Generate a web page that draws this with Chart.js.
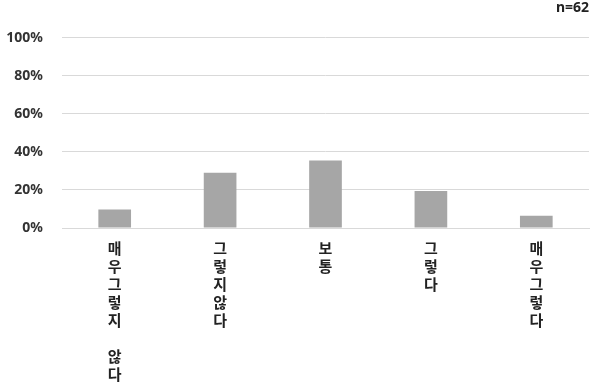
<!DOCTYPE html>
<html>
<head>
<meta charset="utf-8">
<script src="https://cdn.jsdelivr.net/npm/chart.js@4"></script>
<style>
  html, body { margin: 0; padding: 0; background: #fff; }
  #wrap { width: 593px; height: 384px; position: relative; }
</style>
</head>
<body>
<div id="wrap"><canvas id="chart"></canvas></div>
<script>
// chart data
const categories = ['매우그렇지 않다', '그렇지않다', '보통', '그렇다', '매우그렇다'];
const percents = [9.7, 29.0, 35.5, 19.4, 6.5];
const yTicks = [0, 20, 40, 60, 80, 100];
const sampleNote = 'n=62';

// stack each label vertically, one character per line (space -> empty line)
const verticalLabels = categories.map(c => c.split('').map(ch => ch === ' ' ? '' : ch));

new Chart(document.getElementById('chart'), {
  type: 'bar',
  data: {
    labels: verticalLabels,
    datasets: [{
      data: percents,
      backgroundColor: '#a6a6a6',
      borderWidth: 0,
      barPercentage: 0.31,
      categoryPercentage: 1.0
    }]
  },
  options: {
    responsive: true,
    maintainAspectRatio: false,
    animation: false,
    layout: { padding: { left: 0, right: 4, top: 0, bottom: 0 } },
    plugins: {
      legend: { display: false },
      tooltip: { enabled: false },
      title: {
        display: true,
        text: sampleNote,
        align: 'end',
        color: '#222',
        font: { family: 'Noto Sans', size: 14, weight: 'bold' },
        padding: { top: 0, bottom: 21 }
      }
    },
    scales: {
      x: {
        afterFit: s => { s.height = 156; },
        grid: { display: false, drawTicks: false },
        border: { display: true, color: '#d9d9d9', width: 1 },
        ticks: {
          autoSkip: false,
          maxRotation: 0,
          minRotation: 0,
          padding: 11,
          color: '#222',
          font: { family: 'Noto Sans CJK KR', size: 15, weight: 'bold', lineHeight: '18px' }
        }
      },
      y: {
        min: 0,
        max: 100,
        afterFit: s => { s.width = 62; },
        afterBuildTicks: axis => { axis.ticks = yTicks.map(v => ({ value: v })); },
        grid: { color: '#d9d9d9', drawTicks: false },
        border: { display: false },
        ticks: {
          padding: 19,
          color: '#333',
          font: { family: 'Noto Sans', size: 14, weight: 'bold' },
          callback: v => v + '%'
        }
      }
    }
  }
});
</script>
</body>
</html>
